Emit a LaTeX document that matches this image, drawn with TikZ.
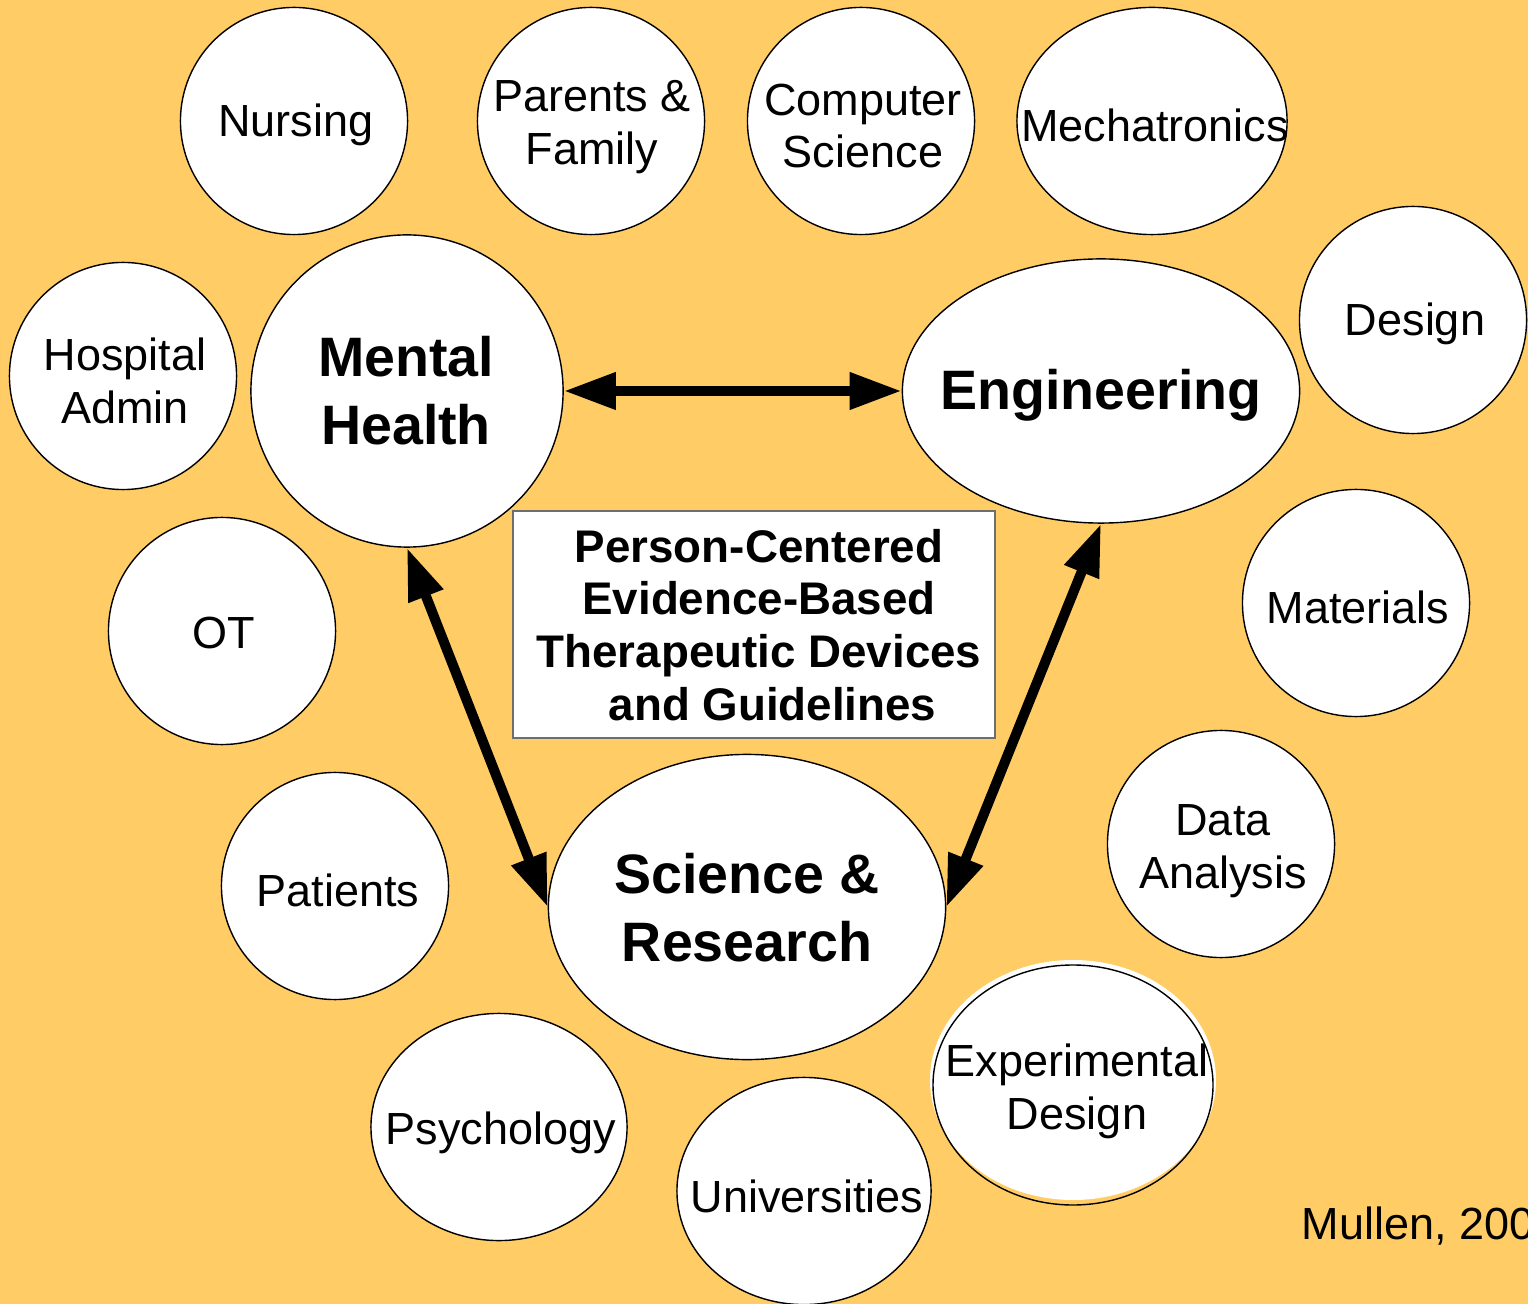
\documentclass[tikz,border=0pt]{standalone}
\usepackage{fontspec}
\setmainfont{Liberation Sans}
\usetikzlibrary{shapes.geometric,arrows.meta}
\definecolor{bgorange}{RGB}{255,204,102}
\definecolor{boxgray}{RGB}{110,110,110}
\tikzset{
  small/.style={circle,draw=black,line width=0.4pt,fill=white,inner sep=0pt,minimum size=2.27cm},
  smallell/.style={ellipse,draw=black,line width=0.4pt,fill=white,inner sep=0pt},
  bigell/.style={ellipse,draw=black,line width=0.4pt,fill=white,inner sep=0pt},
  smalltext/.style={inner sep=0pt,align=center,font=\fontsize{12.8}{15}\selectfont},
  bigtext/.style={inner sep=0pt,align=center,font=\bfseries\fontsize{15.8}{19.3}\selectfont},
  centerbox/.style={rectangle,draw=boxgray,line width=0.5pt,fill=white,inner sep=0pt,minimum width=4.82cm,minimum height=2.27cm},
  boxtext/.style={inner sep=0pt,align=center,font=\bfseries\fontsize{13}{15}\selectfont},
  dblarrow/.style={line width=2.85pt,{Triangle[length=0.52cm,width=0.35cm]}-{Triangle[length=0.52cm,width=0.35cm]}}
}
\begin{document}
\begin{tikzpicture}[x=0.01cm,y=-0.01cm]
\useasboundingbox (0,0) rectangle (1528,1304);
\fill[bgorange] (0,0) rectangle (1528,1304);

\node[small] (nursing) at (294,121) {};
\node[smalltext] (nursingt) at (296,125) {Nursing};
\node[small] (parents) at (591,121) {};
\node[smalltext] (parentst) at (592,127) {Parents \&\\Family};
\node[small] (cs) at (861,121) {};
\node[smalltext] (cst) at (863,126) {Computer\\Science};
\node[smallell,minimum width=2.70cm,minimum height=2.27cm] (mech) at (1152,121) {};
\node[smalltext] (mecht) at (1155,125) {Mechatronics};
\node[small] (design) at (1413,320) {};
\node[smalltext] (designt) at (1415,324) {Design};
\node[small] (hosp) at (123,376) {};
\node[smalltext] (hospt) at (125,381) {Hospital\\Admin};
\node[small] (materials) at (1356,603) {};
\node[smalltext] (materialst) at (1358,607) {Materials};
\node[small] (ot) at (222,631) {};
\node[smalltext] (ott) at (224,633) {OT};
\node[small] (data) at (1221,844) {};
\node[smalltext] (datat) at (1223,851) {Data\\Analysis};
\node[small] (patients) at (335,886) {};
\node[smalltext] (patientst) at (338,890) {Patients};
\node[smallell,minimum width=2.56cm,minimum height=2.27cm] (psych) at (499,1127) {};
\node[smalltext] (psycht) at (501,1133) {Psychology};
\node[smallell,minimum width=2.54cm,minimum height=2.27cm] (univ) at (804,1191) {};
\node[smalltext] (univt) at (807,1196) {Universities};

% Experimental Design: white fill slightly offset from its outline
\fill[white] (1073,1080) ellipse [x radius=143, y radius=120];
\draw[black,line width=0.4pt] (1073,1085) ellipse [x radius=140, y radius=120];
\node[smalltext] (exp) at (1077,1091) {Experimental\\Design};

\node[bigell,circle,minimum size=3.12cm] (mh) at (407,391) {};
\node[bigtext] (mht) at (406,391) {Mental\\Health};
\node[bigell,minimum width=3.97cm,minimum height=2.64cm] (eng) at (1101,391) {};
\node[bigtext] (engt) at (1101,395) {Engineering};
\node[bigell,minimum width=3.97cm,minimum height=3.05cm] (sr) at (747,907) {};
\node[bigtext] (srt) at (747,908) {Science \&\\Research};

\node[centerbox] (box) at (754,624.5) {};
\node[boxtext] (boxt) at (759,625) {Person-Centered\\Evidence-Based\\Therapeutic Devices\\\hspace*{0.27cm}and Guidelines};

\draw[dblarrow] (mh.east) -- (eng.west);
\draw[dblarrow] (mh.south) -- (sr.west);
\draw[dblarrow] (eng.south) -- (sr.east);

\node[anchor=west,inner sep=0pt,font=\fontsize{12.8}{15}\selectfont] (mullen) at (1301,1226) {Mullen, 200};
\end{tikzpicture}
\end{document}
